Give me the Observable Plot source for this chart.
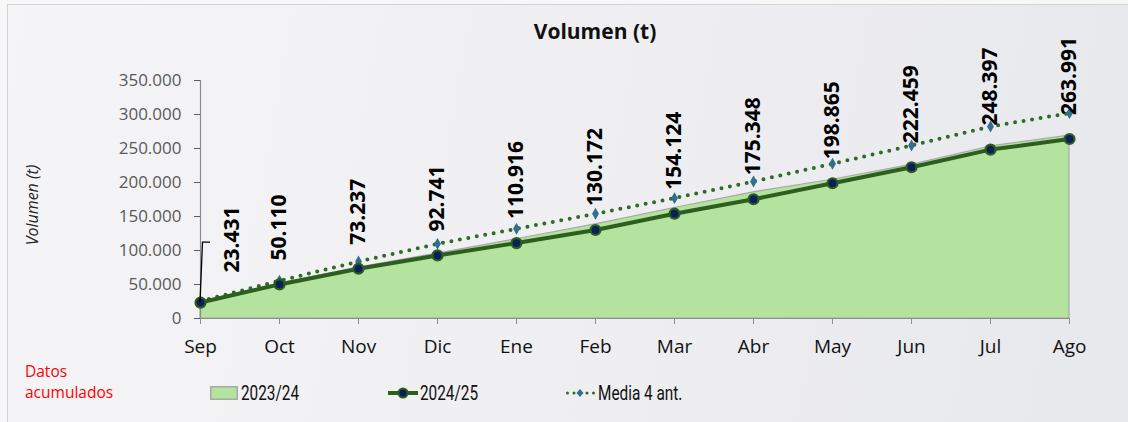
<!DOCTYPE html>
<html>
<head>
<meta charset="utf-8">
<script src="https://cdn.jsdelivr.net/npm/d3@7"></script>
<script src="https://cdn.jsdelivr.net/npm/@observablehq/plot@0.6"></script>
<style>
  html, body { margin: 0; padding: 0; background: #f7f7f8; }
  #wrap { position: relative; width: 1128px; height: 422px; overflow: hidden; font-family: "Open Sans", sans-serif; }
  #frame { position: absolute; left: 7px; top: 4px; width: 1140px; height: 440px; border: 1px solid #d4d4d6;
           background: linear-gradient(100deg, #f5f5f7 0%, #efeff2 50%, #e7e8ec 100%); }
  #chart { position: absolute; left: 0; top: 0; }
  #title { position: absolute; left: 595px; top: 31px; transform: translate(-50%, -50%); font-weight: 700; font-size: 21px; color: #111; white-space: nowrap; }
  #ylab { position: absolute; left: 32px; top: 205px; transform: translate(-50%, -50%) rotate(-90deg); font-style: italic; font-size: 16px; color: #222; white-space: nowrap; }
  #note { position: absolute; left: 25px; top: 361px; font-size: 15.5px; line-height: 21px; color: #ff0000; }
  .sw { position: absolute; top: 386px; display: block; }
  .lt { position: absolute; top: 380px; font-family: "Roboto", sans-serif; font-size: 21px; line-height: 26px; color: #111; white-space: nowrap;
        transform: scaleX(0.73); transform-origin: 0 50%; }
</style>
</head>
<body>
<div id="wrap">
  <div id="frame"></div>
  <div id="chart"></div>
  <div id="title">Volumen (t)</div>
  <div id="ylab">Volumen (t)</div>
  <div id="note">Datos<br>acumulados</div>
  <svg class="sw" style="left:210px" width="28" height="14"><rect x="0.75" y="0.75" width="26.5" height="12.5" fill="#b4e3a0" stroke="#a8a8a8" stroke-width="1.5"/></svg>
  <span class="lt" style="left:241px">2023/24</span>
  <svg class="sw" style="left:388px" width="30" height="14"><line x1="0" y1="7" x2="30" y2="7" stroke="#2d5e1e" stroke-width="4"/><circle cx="15" cy="7" r="4.5" fill="#0b1f5c" stroke="#2d5e1e" stroke-width="2"/></svg>
  <span class="lt" style="left:420px">2024/25</span>
  <svg class="sw" style="left:566px" width="30" height="14"><line x1="1.5" y1="7" x2="28" y2="7" stroke="#2e6b25" stroke-width="3" stroke-dasharray="0 6.5" stroke-linecap="round"/><path d="M14 3 L17.5 7 L14 11 L10.5 7 Z" fill="#2f6f8f"/></svg>
  <span class="lt" style="left:598px">Media 4 ant.</span>
</div>
<script>
const months = ["Sep","Oct","Nov","Dic","Ene","Feb","Mar","Abr","May","Jun","Jul","Ago"];
const v2324 = [24000, 51500, 75000, 95500, 116500, 138500, 162500, 185500, 204000, 226000, 253000, 269000];
const v2425 = [23431, 50110, 73237, 92741, 110916, 130172, 154124, 175348, 198865, 222459, 248397, 263991];
const media = [25500, 55500, 83800, 109800, 131900, 154000, 177000, 201500, 227500, 254400, 282400, 302000];
const yTicks = [0, 50000, 100000, 150000, 200000, 250000, 300000, 350000];

const data = months.map((m, i) => ({month: m, a: v2324[i], b: v2425[i], c: media[i]}));
const es = d3.formatLocale({decimal: ",", thousands: ".", grouping: [3], currency: ["", " €"]});
const fmt = es.format(",");

const leader = (index, scales) => {
  const x = scales.x(months[0]), y = scales.y(v2425[0]);
  const p = d3.create("svg:path")
    .attr("d", `M${x},${y}L${x + 2.5},${y - 60}L${x + 10},${y - 60}`)
    .attr("fill", "none").attr("stroke", "#000").attr("stroke-width", 1.3);
  return p.node();
};

const chart = Plot.plot({
  width: 1128, height: 360,
  marginLeft: 200, marginRight: 59, marginTop: 80, marginBottom: 42,
  style: {background: "transparent", fontFamily: "Open Sans, sans-serif", overflow: "visible"},
  x: {type: "point", domain: months, padding: 0},
  y: {domain: [0, 350000]},
  marks: [
    Plot.areaY(data, {x: "month", y: "a", fill: "#b4e3a0", stroke: "#a8a8a8", strokeWidth: 1.2}),
    Plot.ruleY([0], {stroke: "#8c8c8c", strokeWidth: 1.2}),
    Plot.ruleX([months[0]], {y1: yTicks[0], y2: yTicks[yTicks.length - 1], stroke: "#8c8c8c", strokeWidth: 1.2}),
    Plot.axisY({ticks: yTicks, tickFormat: fmt, tickSize: 6, tickPadding: 13, fontSize: 17, color: "#595959", label: null}),
    Plot.axisX({tickSize: 6, text: null, stroke: "#8c8c8c", label: null}),
    Plot.axisX({tickSize: 0, tickPadding: 21, fontSize: 19, fill: "#111", label: null}),
    Plot.lineY(data, {x: "month", y: "c", stroke: "#2e6b25", strokeWidth: 4, strokeDasharray: "0 8.6", strokeLinecap: "round"}),
    Plot.dot(data, {x: "month", y: "c", symbol: "diamond", r: 3.6, fill: "#2f6f8f", stroke: "none"}),
    Plot.lineY(data, {x: "month", y: "b", stroke: "#2d5e1e", strokeWidth: 4}),
    Plot.dot(data, {x: "month", y: "b", r: 5, fill: "#0b1f5c", stroke: "#2d5e1e", strokeWidth: 2.2}),
    Plot.text(data.slice(1), {x: "month", y: "b", text: d => fmt(d.b), rotate: -90, textAnchor: "start", lineAnchor: "middle", dy: -24, fontSize: 21, fontWeight: 700, fill: "#000"}),
    Plot.text(data.slice(0, 1), {x: "month", y: "b", text: d => fmt(d.b), rotate: -90, textAnchor: "start", lineAnchor: "middle", dx: 32, dy: -30, fontSize: 21, fontWeight: 700, fill: "#000"}),
    leader
  ]
});
document.getElementById("chart").appendChild(chart);
</script>
</body>
</html>
